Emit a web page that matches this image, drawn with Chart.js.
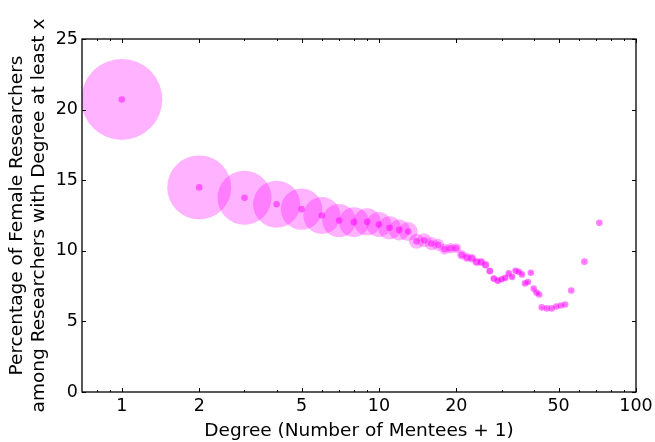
<!DOCTYPE html>
<html>
<head>
<meta charset="utf-8">
<script src="https://cdn.jsdelivr.net/npm/chart.js@4.4.0/dist/chart.umd.min.js"></script>
<style>
  html, body { margin: 0; padding: 0; background: #fff; overflow: hidden; }
  canvas { display: block; }
</style>
</head>
<body>
<canvas id="chart" width="655" height="442"></canvas>
<script>
// Degree (number of mentees + 1)
const degrees = [
  1, 2, 3, 4, 5, 6, 7, 8, 9, 10,
  11, 12, 13, 14, 15, 16, 17, 18, 19, 20,
  21, 22, 23, 24, 25, 26, 27, 28, 29, 30,
  31, 32, 33, 34, 35, 36, 37, 38, 39, 40,
  41, 42, 43, 45, 47, 49, 51, 53, 56, 63, 72
];

// % female among researchers with degree >= x
const femalePercent = [
  20.72, 14.49, 13.76, 13.30, 12.95, 12.50, 12.14, 12.03, 12.05, 11.86,
  11.63, 11.48, 11.36, 10.67, 10.75, 10.51, 10.42, 10.11, 10.18, 10.18,
  9.71, 9.52, 9.47, 9.21, 9.21, 9.00, 8.57, 8.03, 7.88, 7.98,
  8.08, 8.40, 8.15, 8.59, 8.52, 8.33, 7.69, 7.79, 8.45, 7.32,
  7.05, 6.91, 5.99, 5.92, 5.92, 6.06, 6.13, 6.20, 7.19, 9.23, 11.98
];

// share of researchers with degree >= x (relative to x = 1, in %), shown as bubble area
const researcherShare = [
  100, 62.4, 44.4, 33.7, 26.1, 20.9, 17.0, 13.7, 11.1, 9.5,
  8.1, 6.7, 5.5, 3.4, 3.0, 2.6, 2.2, 1.8, 1.7, 1.5,
  1.4, 1.3, 1.2, 1.1, 0.98, 0.88, 0.75, 0.62, 0.55, 0.45,
  0.40, 0.36, 0.33, 0.30, 0.27, 0.25, 0.23, 0.21, 0.19, 0.17,
  0.16, 0.15, 0.14, 0.12, 0.10, 0.09, 0.08, 0.07, 0.06, 0.04, 0.02
];

const xTickLabels = [1, 2, 5, 10, 20, 50, 100];
const xMinorTicks = [0.8, 0.9, 3, 4, 6, 7, 8, 9, 30, 40, 60, 70, 80, 90];
const yTickLabels = [0, 5, 10, 15, 20, 25];

const FONT = 'DejaVu Sans';
const MAX_BUBBLE = 40.5;  // radius of the x = 1 bubble, px

const bubbleData = degrees.map((d, i) => ({
  x: d,
  y: femalePercent[i],
  r: MAX_BUBBLE * Math.sqrt(researcherShare[i] / 100)
}));
const dotData = degrees.map((d, i) => ({ x: d, y: femalePercent[i], r: 3.3 }));

// matplotlib-style frame with inward ticks on all four sides
const frameTicks = {
  id: 'frameTicks',
  afterDatasetsDraw(chart) {
    const { ctx, chartArea: a, scales: { x, y } } = chart;
    ctx.save();
    ctx.strokeStyle = '#000';
    ctx.lineWidth = 1;
    const seg = (x1, y1, x2, y2) => {
      ctx.beginPath();
      ctx.moveTo(x1, y1);
      ctx.lineTo(x2, y2);
      ctx.stroke();
    };
    const xTick = (v, len) => {
      const p = Math.round(x.getPixelForValue(v)) + 0.5;
      seg(p, a.bottom, p, a.bottom - len);
      seg(p, a.top, p, a.top + len);
    };
    xTickLabels.forEach(v => xTick(v, 4));
    xMinorTicks.forEach(v => xTick(v, 2));
    yTickLabels.forEach(v => {
      const p = Math.round(y.getPixelForValue(v)) + 0.5;
      seg(a.left, p, a.left + 4, p);
      seg(a.right, p, a.right - 4, p);
    });
    ctx.lineWidth = 1.3;
    ctx.strokeRect(a.left, a.top, a.right - a.left, a.bottom - a.top);
    ctx.restore();
  }
};

new Chart(document.getElementById('chart'), {
  type: 'bubble',
  data: {
    datasets: [
      {
        label: 'share',
        data: bubbleData,
        backgroundColor: 'rgba(255, 0, 255, 0.3)',
        borderWidth: 0,
        hoverBorderWidth: 0
      },
      {
        label: 'value',
        data: dotData,
        backgroundColor: 'rgba(255, 0, 255, 0.5)',
        borderWidth: 0,
        hoverBorderWidth: 0
      }
    ]
  },
  options: {
    responsive: false,
    animation: false,
    events: [],
    layout: { autoPadding: false, padding: { top: 39, right: 19, left: 0, bottom: 0 } },
    plugins: {
      legend: { display: false },
      tooltip: { enabled: false }
    },
    scales: {
      x: {
        type: 'logarithmic',
        min: 0.7,
        max: 100,
        afterBuildTicks: s => { s.ticks = xTickLabels.map(v => ({ value: v })); },
        afterFit: s => {
          s.height = 50;
          s.paddingLeft = 0;
          s.paddingRight = 0;
        },
        grid: { display: false, drawTicks: false },
        border: { display: false },
        ticks: {
          autoSkip: false,
          maxRotation: 0,
          padding: 4,
          color: '#000',
          font: { family: FONT, size: 17.5 },
          callback: v => String(v)
        },
        title: {
          display: true,
          text: 'Degree (Number of Mentees + 1)',
          color: '#000',
          font: { family: FONT, size: 18.5, lineHeight: 1.15 },
          padding: { top: 0, bottom: 0 }
        }
      },
      y: {
        type: 'linear',
        min: 0,
        max: 25,
        afterBuildTicks: s => { s.ticks = yTickLabels.map(v => ({ value: v })); },
        afterFit: s => {
          s.width = 82;
          s.paddingTop = 0;
          s.paddingBottom = 0;
        },
        grid: { display: false, drawTicks: false },
        border: { display: false },
        ticks: {
          padding: 4,
          color: '#000',
          font: { family: FONT, size: 17.5 }
        },
        title: {
          display: true,
          text: ['Percentage of Female Researchers', 'among Researchers with Degree at least x'],
          color: '#000',
          font: { family: FONT, size: 18.5, lineHeight: 1.15 },
          padding: { top: 7, bottom: 0 }
        }
      }
    }
  },
  plugins: [frameTicks]
});
</script>
</body>
</html>
